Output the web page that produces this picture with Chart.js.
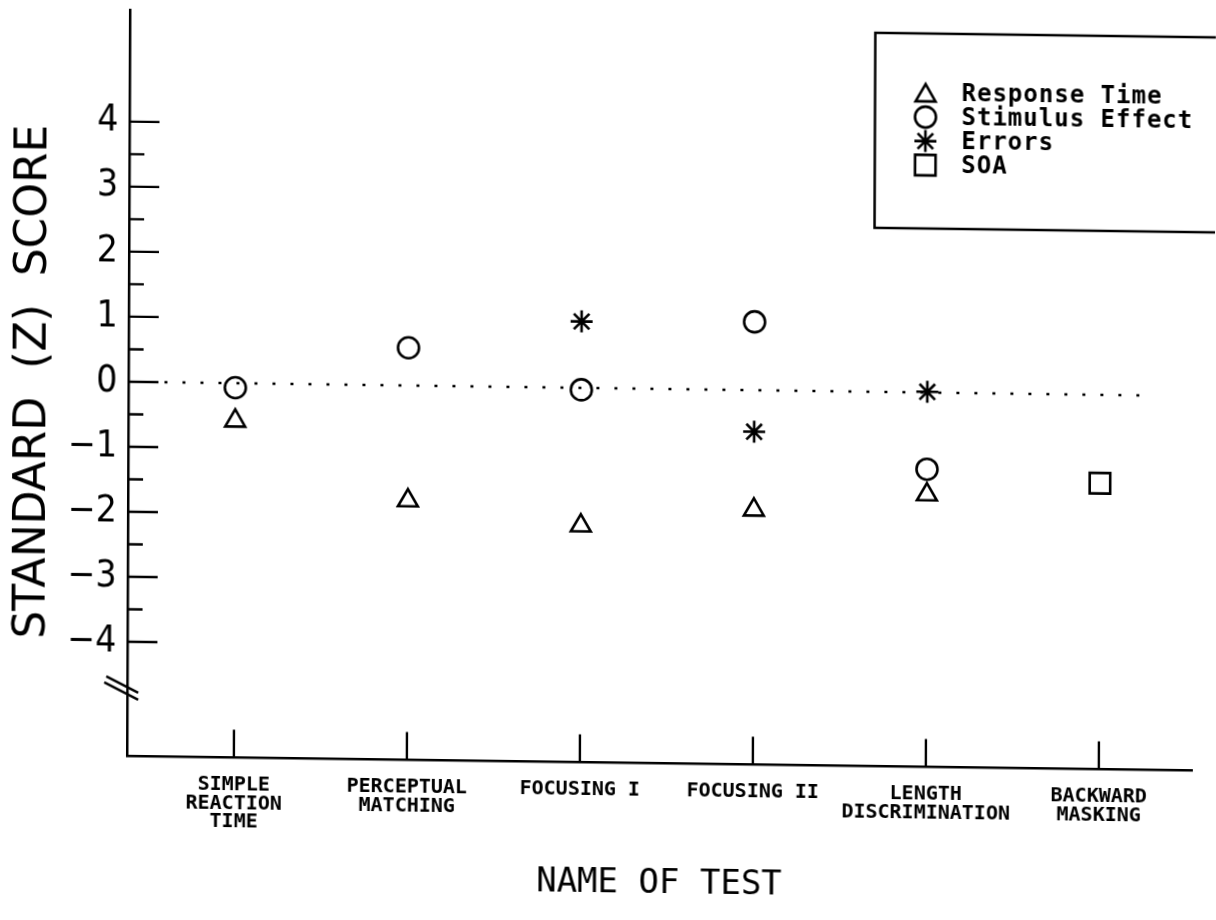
<!DOCTYPE html>
<html>
<head>
<meta charset="utf-8">
<title>Standard (Z) Score by Name of Test</title>
<script src="https://cdn.jsdelivr.net/npm/chart.js@4.4.1/dist/chart.umd.min.js"></script>
<style>
  html, body { margin: 0; padding: 0; background: #fff; overflow: hidden; }
  /* the scanned original is slightly skewed, mimic it */
  #graph { display: block; transform: matrix(1, 0.0135, -0.004, 1, 0, 0); transform-origin: 0 0; }
</style>
</head>
<body>
<canvas id="graph" width="1216" height="920"></canvas>
<script>
var categories = [
    ['SIMPLE', 'REACTION', 'TIME'],
    ['PERCEPTUAL', 'MATCHING'],
    ['FOCUSING I'],
    ['FOCUSING II'],
    ['LENGTH', 'DISCRIMINATION'],
    ['BACKWARD', 'MASKING']
];

var responseTime   = [-0.58, -1.77, -2.12, -1.84, -1.57, null];
var stimulusEffect = [-0.07, 0.58, -0.03, 1.05, -1.18, null];
var errors         = [null, null, 1.02, -0.64, 0.01, null];
var soa            = [null, null, null, null, null, -1.36];

var yTicks = [-4, -3, -2, -1, 0, 1, 2, 3, 4];
var yTickLabels = ['\u22124', '\u22123', '\u22122', '\u22121', '0', '1', '2', '3', '4'];
var yMinorTicks = [-3.5, -2.5, -1.5, -0.5, 0.5, 1.5, 2.5, 3.5];
var breakAt = -4.75;

function toPoints(vals) {
    var pts = [];
    vals.forEach(function (v, i) {
        if (v !== null) pts.push({ x: i, y: v });
    });
    return pts;
}

function markerSet(label, vals, style, r) {
    return {
        label: label,
        data: toPoints(vals),
        showLine: false,
        pointStyle: style,
        pointRadius: r,
        pointHoverRadius: r,
        pointBorderWidth: 2.6,
        pointBorderColor: '#000',
        pointBackgroundColor: 'rgba(0,0,0,0)'
    };
}

function noPadding(s) {
    s.paddingTop = 0;
    s.paddingBottom = 0;
    s.paddingLeft = 0;
    s.paddingRight = 0;
}

// tick marks point inward, plus the axis break
var tickMarks = {
    id: 'tickMarks',
    afterDatasetsDraw: function (chart) {
        var ctx = chart.ctx, area = chart.chartArea;
        var x = chart.scales.x, y = chart.scales.y;
        ctx.save();
        ctx.strokeStyle = '#000';
        ctx.lineWidth = 2.4;
        ctx.beginPath();
        yTicks.forEach(function (v) {
            var py = y.getPixelForValue(v);
            ctx.moveTo(area.left, py);
            ctx.lineTo(area.left + 30, py);
        });
        yMinorTicks.forEach(function (v) {
            var py = y.getPixelForValue(v);
            ctx.moveTo(area.left, py);
            ctx.lineTo(area.left + 15, py);
        });
        categories.forEach(function (c, i) {
            var px = x.getPixelForValue(i);
            ctx.moveTo(px, area.bottom);
            ctx.lineTo(px, area.bottom - 28);
        });
        var by = y.getPixelForValue(breakAt);
        ctx.moveTo(area.left - 21, by - 14);
        ctx.lineTo(area.left + 11, by + 2);
        ctx.moveTo(area.left - 23, by - 8);
        ctx.lineTo(area.left + 11, by + 9);
        ctx.stroke();
        ctx.restore();
    }
};

var legendBox = {
    id: 'legendBox',
    afterDraw: function (chart) {
        var ctx = chart.ctx;
        ctx.save();
        ctx.strokeStyle = '#000';
        ctx.lineWidth = 2.5;
        ctx.strokeRect(875.5, 21, 400, 195);
        ctx.fillStyle = '#000';
        ctx.font = 'bold 24px "DejaVu Sans Mono"';
        ctx.textBaseline = 'middle';
        ctx.letterSpacing = '1px';
        chart.data.datasets.slice(0, 4).forEach(function (ds, i) {
            var rowY = 80.6 + i * 24;
            var my = ds.pointStyle === 'triangle' ? rowY + 2.5 : rowY;
            ctx.save();
            ctx.fillStyle = 'rgba(0,0,0,0)';
            ctx.strokeStyle = '#000';
            ctx.lineWidth = 2.6;
            Chart.helpers.drawPoint(ctx, {
                pointStyle: ds.pointStyle,
                radius: ds.pointRadius,
                rotation: 0,
                borderWidth: 2.6
            }, 926, my);
            ctx.restore();
            ctx.fillText(ds.label, 962, rowY + 1);
        });
        ctx.restore();
    }
};

var ctx = document.getElementById('graph');
var chart = new Chart(ctx, {
    type: 'scatter',
    data: {
        datasets: [
            markerSet('Response Time', responseTime, 'triangle', 11.5),
            markerSet('Stimulus Effect', stimulusEffect, 'circle', 10.5),
            markerSet('Errors', errors, 'star', 11),
            markerSet('SOA', soa, 'rect', 14.5),
            {
                type: 'line',
                label: 'zero',
                data: [{ x: -0.41, y: 0 }, { x: 5.30, y: 0 }],
                showLine: true,
                borderColor: '#000',
                borderWidth: 2.6,
                borderDash: [3, 15],
                pointRadius: 0,
                fill: false
            }
        ]
    },
    options: {
        responsive: false,
        animation: false,
        devicePixelRatio: 1,
        layout: { autoPadding: false, padding: { top: 8, right: 21, left: 0, bottom: 0 } },
        plugins: {
            legend: { display: false },
            tooltip: { enabled: false }
        },
        scales: {
            x: {
                type: 'linear',
                position: 'bottom',
                min: -0.618,
                max: 5.538,
                grid: { display: false },
                border: { display: true, color: '#000', width: 2.5 },
                afterBuildTicks: function (s) {
                    s.ticks = categories.map(function (c, i) { return { value: i }; });
                },
                afterFit: function (s) { s.height = 165.5; noPadding(s); },
                ticks: {
                    autoSkip: false,
                    maxRotation: 0,
                    padding: 10,
                    color: '#000',
                    font: { family: '"DejaVu Sans Mono"', weight: 'bold', size: 20, lineHeight: 0.93 },
                    callback: function (v) { return categories[v]; }
                },
                title: {
                    display: true,
                    text: 'NAME OF TEST',
                    color: '#000',
                    font: { family: '"DejaVu Sans Mono"', size: 34 },
                    padding: { top: 0, bottom: 24 }
                }
            },
            y: {
                min: -5.76,
                max: 5.72,
                grid: { display: false },
                border: { display: true, color: '#000', width: 2.5 },
                afterBuildTicks: function (s) {
                    s.ticks = yTicks.map(function (v) { return { value: v }; });
                },
                afterFit: function (s) { s.width = 130; noPadding(s); },
                ticks: {
                    padding: 3,
                    color: '#000',
                    font: { family: '"Liberation Sans Narrow", "DejaVu Sans Condensed", "DejaVu Sans"', size: 37 },
                    callback: function (v) { return yTickLabels[yTicks.indexOf(v)]; }
                },
                title: {
                    display: true,
                    text: 'STANDARD  (Z)  SCORE',
                    color: '#000',
                    font: { family: '"DejaVu Sans"', size: 44 },
                    padding: { top: 9, bottom: 0 }
                }
            }
        }
    },
    plugins: [tickMarks, legendBox]
});
</script>
</body>
</html>
